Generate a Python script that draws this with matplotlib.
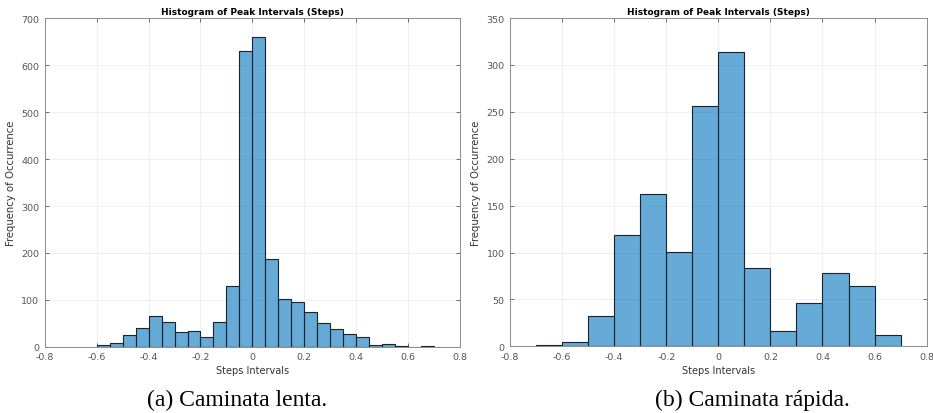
import matplotlib
matplotlib.use("Agg")
import matplotlib.pyplot as plt
import numpy as np

# slow walk: bins of 0.05 starting at -0.6
slow_edges = np.round(np.arange(-0.6, 0.7001, 0.05), 3)
slow_counts = [3, 9, 25, 40, 65, 52, 31, 33, 20, 52, 129, 631, 661, 187,
               101, 95, 75, 50, 37, 27, 20, 3, 6, 1, 0, 1]

# fast walk: bins of 0.1 starting at -0.7
fast_edges = np.round(np.arange(-0.7, 0.7001, 0.1), 3)
fast_counts = [1, 5, 32, 119, 162, 101, 256, 314, 84, 16, 46, 78, 64, 12]

xticks = [-0.8, -0.6, -0.4, -0.2, 0, 0.2, 0.4, 0.6, 0.8]
xtick_labels = ["-0.8", "-0.6", "-0.4", "-0.2", "0", "0.2", "0.4", "0.6", "0.8"]
slow_yticks = [0, 100, 200, 300, 400, 500, 600, 700]
fast_yticks = [0, 50, 100, 150, 200, 250, 300, 350]

title = "Histogram of Peak Intervals (Steps)"
captions = ["(a) Caminata lenta.", "(b) Caminata rápida."]

plt.rcParams["axes.unicode_minus"] = False
plt.rcParams["font.family"] = "DejaVu Sans"

bar_color = "#0072BD"
fig = plt.figure(figsize=(9.33, 4.14), dpi=100)

ax1 = fig.add_axes([0.048, 0.160, 0.445, 0.793])
ax2 = fig.add_axes([0.5466, 0.161, 0.4466, 0.793])


def draw(ax, edges, counts, yticks):
	widths = np.diff(edges)
	ax.bar(edges[:-1], counts, width=widths, align="edge",
	       color=bar_color, alpha=0.6, edgecolor="none", zorder=2)
	ax.bar(edges[:-1], counts, width=widths, align="edge",
	       fill=False, edgecolor="#1a2330", linewidth=0.8, zorder=3)
	ax.set_xlim(-0.8, 0.8)
	ax.set_ylim(yticks[0], yticks[-1])
	ax.set_xticks(xticks)
	ax.set_xticklabels(xtick_labels)
	ax.set_yticks(yticks)
	ax.tick_params(direction="in", length=3, width=0.6, top=True, right=True,
	               labelsize=6.8, colors="#555555")
	ax.tick_params(axis="x", pad=4)
	ax.tick_params(axis="y", pad=4)
	ax.grid(True, color="#ececec", linewidth=0.6, zorder=0)
	ax.set_axisbelow(True)
	for s in ax.spines.values():
		s.set_color("#8c8c8c")
		s.set_linewidth(0.7)
	ax.set_title(title, fontsize=6.5, fontweight="bold", pad=3)
	ax.set_xlabel("Steps Intervals", fontsize=7, color="#333333", labelpad=3)
	ax.set_ylabel("Frequency of Occurrence", fontsize=7.3, color="#333333", labelpad=4)


draw(ax1, slow_edges, slow_counts, slow_yticks)
draw(ax2, fast_edges, fast_counts, fast_yticks)

fig.text(237 / 933, 1 - 400 / 414, captions[0], ha="center", va="center",
         fontsize=17, family="Liberation Serif")
fig.text(752 / 933, 1 - 400 / 414, captions[1], ha="center", va="center",
         fontsize=17, family="Liberation Serif")

fig.savefig("out.png", dpi=100)
